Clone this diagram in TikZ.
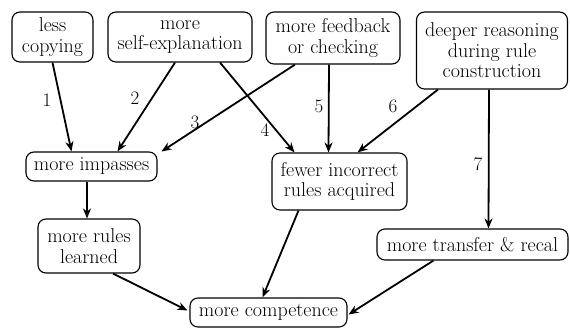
\documentclass[tikz,border=0pt]{standalone}
\usetikzlibrary{arrows.meta}
\begin{document}
\begin{tikzpicture}[x=1pt,y=-1pt,
  box/.style={draw, line width=1.1pt, rounded corners=8pt, align=center, inner sep=1pt,
    font=\rmfamily\fontsize{20}{20.5}\selectfont},
  conn/.style={line width=1.8pt, -{Stealth[length=10pt,width=8pt]}},
  num/.style={font=\rmfamily\fontsize{19}{19}\selectfont, inner sep=0pt}]
\useasboundingbox (0,0) rectangle (570,328);
\node[box, minimum width=81pt, minimum height=50pt] (less) at (52.5,37) {less\\copying};
\node[box, minimum width=144pt, minimum height=50pt] (self) at (180,37) {more\\self-explanation};
\node[box, minimum width=134pt, minimum height=52pt] (feed) at (333,38) {more feedback\\or checking};
\node[box, minimum width=151pt, minimum height=77pt] (deep) at (492,50.5) {deeper reasoning\\during rule\\construction};
\node[box, minimum width=131pt, minimum height=29pt] (imp) at (91.5,166.5) {more impasses};
\node[box, minimum width=135pt, minimum height=57pt] (fewer) at (339.5,181.5) {fewer incorrect\\rules acquired};
\node[box, minimum width=102pt, minimum height=54pt] (rules) at (89,246) {more rules\\learned};
\node[box, minimum width=191pt, minimum height=31pt] (trans) at (472.5,244.5) {more transfer \& recal};
\node[box, minimum width=157pt, minimum height=29pt] (comp) at (268.5,312.5) {more competence};

\draw[conn] (less.south) -- ([xshift=-20pt]imp.north);
\draw[conn] ([xshift=-5pt]self.south) -- ([xshift=26pt]imp.north);
\draw[conn] ([xshift=-38pt]feed.south) -- ([xshift=4pt]imp.north east);
\draw[conn] ([xshift=40pt]self.south) -- ([xshift=-45pt]fewer.north);
\draw[conn] ([xshift=-4pt]feed.south) -- ([xshift=-11pt]fewer.north);
\draw[conn] ([xshift=-54pt]deep.south) -- ([xshift=18pt]fewer.north);
\draw[conn] ([xshift=-3pt]deep.south) -- ([xshift=16pt]trans.north);
\draw[conn] ([xshift=-4.5pt]imp.south) -- ([xshift=-2pt]rules.north);
\draw[conn] ([xshift=24pt]rules.south) -- ([xshift=-2pt,yshift=2pt]comp.west);
\draw[conn] ([xshift=-41pt]fewer.south) -- ([xshift=-6pt]comp.north);
\draw[conn] ([xshift=-39pt]trans.south) -- ([xshift=1pt,yshift=-2pt]comp.east);

\node[num] (l1) at (47,100) {1};
\node[num] (l2) at (135,98) {2};
\node[num] (l3) at (195,122) {3};
\node[num] (l4) at (265,130) {4};
\node[num] (l5) at (319,106) {5};
\node[num] (l6) at (393,106) {6};
\node[num] (l7) at (478,164) {7};
\end{tikzpicture}
\end{document}
